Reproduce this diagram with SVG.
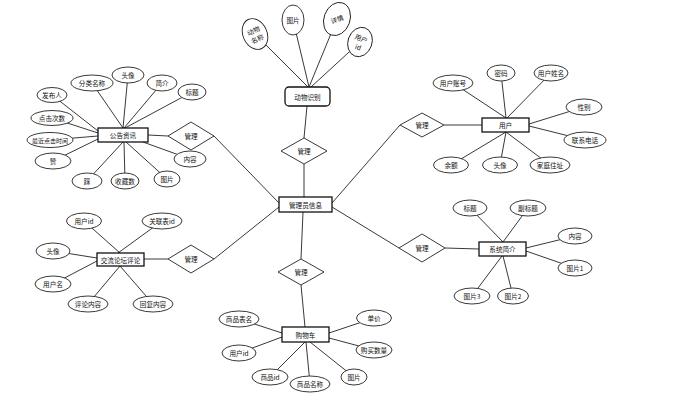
<svg xmlns="http://www.w3.org/2000/svg" width="675" height="400" viewBox="0 0 675 400">
<style>
.bg{fill:#fff}
.ln{stroke:#222;stroke-width:0.9;fill:none}
.ent{fill:#fff;stroke:#111;stroke-width:1.3}
.rel{fill:#fff;stroke:#222;stroke-width:0.9}
.att{fill:#fff;stroke:#222;stroke-width:0.9}
text{font-family:"Noto Sans CJK SC","Noto Sans",sans-serif;font-size:6.6px;fill:#111;text-anchor:middle;dominant-baseline:central}
.sm{font-size:6px}
</style>
<rect class="bg" x="0" y="0" width="675" height="400"/>
<g id="connectors">
<line class="ln" x1="304" y1="197" x2="304" y2="164"/>
<line class="ln" x1="304" y1="138" x2="307" y2="106"/>
<line class="ln" x1="279" y1="203" x2="214" y2="136"/>
<line class="ln" x1="279" y1="207" x2="214" y2="259"/>
<line class="ln" x1="303" y1="212" x2="301" y2="259"/>
<line class="ln" x1="301" y1="285" x2="305" y2="327"/>
<line class="ln" x1="332" y1="203" x2="400" y2="125"/>
<line class="ln" x1="332" y1="207" x2="399" y2="248"/>
<line class="ln" x1="168" y1="136" x2="148" y2="135"/>
<line class="ln" x1="168" y1="259" x2="144" y2="259"/>
<line class="ln" x1="444" y1="125" x2="482" y2="125"/>
<line class="ln" x1="445" y1="248" x2="479" y2="249"/>
<line class="ln" x1="255" y1="34" x2="308" y2="87"/>
<line class="ln" x1="293" y1="20" x2="309" y2="87"/>
<line class="ln" x1="337" y1="19" x2="309" y2="87"/>
<line class="ln" x1="360" y1="42" x2="311" y2="87"/>
<line class="ln" x1="52" y1="95" x2="98" y2="131"/>
<line class="ln" x1="52" y1="118" x2="98" y2="133"/>
<line class="ln" x1="50" y1="140" x2="98" y2="136"/>
<line class="ln" x1="53" y1="161" x2="98" y2="139"/>
<line class="ln" x1="92" y1="83" x2="123" y2="128"/>
<line class="ln" x1="128" y1="75" x2="123" y2="128"/>
<line class="ln" x1="162" y1="83" x2="124" y2="128"/>
<line class="ln" x1="192" y1="92" x2="125" y2="128"/>
<line class="ln" x1="87" y1="181" x2="123" y2="142"/>
<line class="ln" x1="125" y1="181" x2="124" y2="142"/>
<line class="ln" x1="167" y1="179" x2="126" y2="142"/>
<line class="ln" x1="190" y1="159" x2="143" y2="142"/>
<line class="ln" x1="84" y1="221" x2="120" y2="253"/>
<line class="ln" x1="162" y1="221" x2="118" y2="253"/>
<line class="ln" x1="53" y1="251" x2="97" y2="258"/>
<line class="ln" x1="53" y1="284" x2="97" y2="261"/>
<line class="ln" x1="88" y1="304" x2="120" y2="266"/>
<line class="ln" x1="153" y1="304" x2="120" y2="266"/>
<line class="ln" x1="453" y1="83" x2="506" y2="118"/>
<line class="ln" x1="501" y1="73" x2="506" y2="118"/>
<line class="ln" x1="551" y1="73" x2="507" y2="118"/>
<line class="ln" x1="584" y1="107" x2="529" y2="124"/>
<line class="ln" x1="585" y1="140" x2="529" y2="126"/>
<line class="ln" x1="550" y1="165" x2="506" y2="132"/>
<line class="ln" x1="500" y1="165" x2="506" y2="132"/>
<line class="ln" x1="451" y1="165" x2="506" y2="132"/>
<line class="ln" x1="470" y1="208" x2="503" y2="242"/>
<line class="ln" x1="528" y1="208" x2="503" y2="242"/>
<line class="ln" x1="575" y1="236" x2="526" y2="248"/>
<line class="ln" x1="575" y1="268" x2="526" y2="251"/>
<line class="ln" x1="513" y1="296" x2="503" y2="256"/>
<line class="ln" x1="472" y1="296" x2="502" y2="256"/>
<line class="ln" x1="239" y1="319" x2="282" y2="333"/>
<line class="ln" x1="239" y1="353" x2="282" y2="337"/>
<line class="ln" x1="270" y1="377" x2="305" y2="342"/>
<line class="ln" x1="310" y1="384" x2="306" y2="342"/>
<line class="ln" x1="354" y1="377" x2="310" y2="342"/>
<line class="ln" x1="374" y1="318" x2="329" y2="333"/>
<line class="ln" x1="374" y1="350" x2="329" y2="338"/>
</g>

<g id="rel-animal"><polygon class="rel" points="304,138 327,151 304,164 281,151"/><text x="304" y="151">管理</text></g>
<g id="rel-cart"><polygon class="rel" points="301,259 324,272 301,285 278,272"/><text x="301" y="272">管理</text></g>
<g id="rel-notice"><polygon class="rel" points="191,122 214,136 191,150 168,136"/><text x="191" y="136">管理</text></g>
<g id="rel-forum"><polygon class="rel" points="191,245 214,259 191,273 168,259"/><text x="191" y="259">管理</text></g>
<g id="rel-user"><polygon class="rel" points="422,113 444,125 422,137 400,125"/><text x="422" y="125">管理</text></g>
<g id="rel-system"><polygon class="rel" points="422,234 445,248 422,262 399,248"/><text x="422" y="248">管理</text></g>

<g id="admin"><rect class="ent" x="279" y="197" width="53" height="15"/><text x="305.5" y="204.5">管理员信息</text></g>
<g id="animal"><rect class="ent" x="285" y="87" width="45" height="19" rx="4"/><text x="307.5" y="96.5">动物识别</text></g>
<g id="notice"><rect class="ent" x="98" y="128" width="50" height="14"/><text x="123" y="135">公告资讯</text></g>
<g id="forum"><rect class="ent" x="97" y="253" width="47" height="13"/><text x="120.5" y="259.5">交流论坛评论</text></g>
<g id="user"><rect class="ent" x="482" y="118" width="47" height="14"/><text x="505.5" y="125">用户</text></g>
<g id="system"><rect class="ent" x="479" y="242" width="47" height="14"/><text x="502.5" y="249">系统简介</text></g>
<g id="cart"><rect class="ent" x="282" y="327" width="47" height="15"/><text x="305.5" y="334.5">购物车</text></g>

<g id="a-animal-name"><ellipse class="att" cx="255" cy="34" rx="12" ry="16" transform="rotate(-25 255 34)"/><text transform="rotate(-25 255 34)" x="255" y="30">动物</text><text transform="rotate(-25 255 34)" x="255" y="39">名称</text></g>
<g id="a-animal-pic"><ellipse class="att" cx="293" cy="20" rx="11" ry="15"/><text x="293" y="20">图片</text></g>
<g id="a-animal-detail"><ellipse class="att" cx="337" cy="19" rx="13" ry="17" transform="rotate(20 337 19)"/><text transform="rotate(-20 337 19)" x="337" y="19">详情</text></g>
<g id="a-animal-uid"><ellipse class="att" cx="360" cy="42" rx="12" ry="15" transform="rotate(20 360 42)"/><text transform="rotate(20 360 42)" x="360" y="38">用户</text><text transform="rotate(20 360 42)" x="360" y="47">id</text></g>

<g id="a-n1"><ellipse class="att" cx="52" cy="95" rx="15" ry="7.5"/><text x="52" y="95">发布人</text></g>
<g id="a-n2"><ellipse class="att" cx="52" cy="118" rx="21" ry="7.5"/><text x="52" y="118">点击次数</text></g>
<g id="a-n3"><ellipse class="att" cx="50" cy="140" rx="23" ry="7.5"/><text class="sm" x="50" y="140">最近点击时间</text></g>
<g id="a-n4"><ellipse class="att" cx="53" cy="161" rx="18" ry="8"/><text x="53" y="161">赞</text></g>
<g id="a-n5"><ellipse class="att" cx="87" cy="181" rx="15" ry="8"/><text x="87" y="181">踩</text></g>
<g id="a-n6"><ellipse class="att" cx="125" cy="181" rx="14" ry="8"/><text x="125" y="181">收藏数</text></g>
<g id="a-n7"><ellipse class="att" cx="167" cy="179" rx="13" ry="8"/><text x="167" y="179">图片</text></g>
<g id="a-n8"><ellipse class="att" cx="190" cy="159" rx="16" ry="8"/><text x="190" y="159">内容</text></g>
<g id="a-n9"><ellipse class="att" cx="92" cy="83" rx="21" ry="8"/><text x="92" y="83">分类名称</text></g>
<g id="a-n10"><ellipse class="att" cx="128" cy="75" rx="16" ry="8"/><text x="128" y="75">头像</text></g>
<g id="a-n11"><ellipse class="att" cx="162" cy="83" rx="15" ry="8"/><text x="162" y="83">简介</text></g>
<g id="a-n12"><ellipse class="att" cx="192" cy="92" rx="14" ry="8"/><text x="192" y="92">标题</text></g>

<g id="a-f1"><ellipse class="att" cx="84" cy="221" rx="17.5" ry="8"/><text x="84" y="221">用户id</text></g>
<g id="a-f2"><ellipse class="att" cx="162" cy="221" rx="20" ry="8"/><text x="162" y="221">关联表id</text></g>
<g id="a-f3"><ellipse class="att" cx="53" cy="251" rx="17" ry="8"/><text x="53" y="251">头像</text></g>
<g id="a-f4"><ellipse class="att" cx="53" cy="284" rx="18" ry="8"/><text x="53" y="284">用户名</text></g>
<g id="a-f5"><ellipse class="att" cx="88" cy="304" rx="20" ry="8"/><text x="88" y="304">评论内容</text></g>
<g id="a-f6"><ellipse class="att" cx="153" cy="304" rx="20" ry="8"/><text x="153" y="304">回复内容</text></g>

<g id="a-u1"><ellipse class="att" cx="453" cy="83" rx="20" ry="8"/><text x="453" y="83">用户账号</text></g>
<g id="a-u2"><ellipse class="att" cx="501" cy="73" rx="14" ry="8"/><text x="501" y="73">密码</text></g>
<g id="a-u3"><ellipse class="att" cx="551" cy="73" rx="17" ry="8"/><text x="551" y="73">用户姓名</text></g>
<g id="a-u4"><ellipse class="att" cx="584" cy="107" rx="18" ry="8"/><text x="584" y="107">性别</text></g>
<g id="a-u5"><ellipse class="att" cx="585" cy="140" rx="21" ry="8"/><text x="585" y="140">联系电话</text></g>
<g id="a-u6"><ellipse class="att" cx="550" cy="165" rx="20" ry="8"/><text x="550" y="165">家庭住址</text></g>
<g id="a-u7"><ellipse class="att" cx="500" cy="165" rx="17.5" ry="8"/><text x="500" y="165">头像</text></g>
<g id="a-u8"><ellipse class="att" cx="451" cy="165" rx="17.5" ry="8"/><text x="451" y="165">余额</text></g>

<g id="a-s1"><ellipse class="att" cx="470" cy="208" rx="17" ry="8"/><text x="470" y="208">标题</text></g>
<g id="a-s2"><ellipse class="att" cx="528" cy="208" rx="18" ry="8"/><text x="528" y="208">副标题</text></g>
<g id="a-s3"><ellipse class="att" cx="575" cy="236" rx="17" ry="8"/><text x="575" y="236">内容</text></g>
<g id="a-s4"><ellipse class="att" cx="575" cy="268" rx="17" ry="8"/><text x="575" y="268">图片1</text></g>
<g id="a-s5"><ellipse class="att" cx="513" cy="296" rx="15.5" ry="8"/><text x="513" y="296">图片2</text></g>
<g id="a-s6"><ellipse class="att" cx="472" cy="296" rx="18" ry="8"/><text x="472" y="296">图片3</text></g>

<g id="a-c1"><ellipse class="att" cx="239" cy="319" rx="20" ry="8"/><text x="239" y="319">商品表名</text></g>
<g id="a-c2"><ellipse class="att" cx="239" cy="353" rx="17" ry="8"/><text x="239" y="353">用户id</text></g>
<g id="a-c3"><ellipse class="att" cx="270" cy="377" rx="18" ry="8"/><text x="270" y="377">商品id</text></g>
<g id="a-c4"><ellipse class="att" cx="310" cy="384" rx="20" ry="8"/><text x="310" y="384">商品名称</text></g>
<g id="a-c5"><ellipse class="att" cx="354" cy="377" rx="13" ry="8"/><text x="354" y="377">图片</text></g>
<g id="a-c6"><ellipse class="att" cx="374" cy="318" rx="17.5" ry="8"/><text x="374" y="318">单价</text></g>
<g id="a-c7"><ellipse class="att" cx="374" cy="350" rx="18" ry="8"/><text x="374" y="350">购买数量</text></g>
</svg>
